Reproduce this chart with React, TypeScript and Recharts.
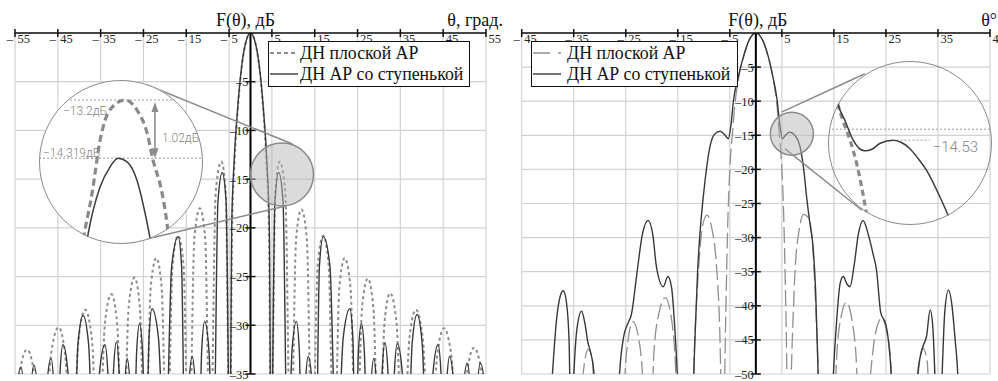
import React from 'react';
import { LineChart, Line, XAxis, YAxis, CartesianGrid, ReferenceLine, ReferenceDot } from 'recharts';

type Pt = [number, number];

const SERIF = "'Liberation Serif', 'Times New Roman', serif";
const LIGHT = "Roboto, 'DejaVu Sans', sans-serif";

// ---------- series names ----------
const flatName = 'ДН плоской АР';
const stepName = 'ДН АР со ступенькой';

// ---------- left panel: θ ∈ [−55°, 55°], F(θ) ∈ [−35, 0] dB ----------
const leftThetaTicks = [-55, -45, -35, -25, -15, -5, 5, 15, 25, 35, 45, 55];
const leftDbTicks = [0, -5, -10, -15, -20, -25, -30, -35];

const leftFlat: Pt[] = [
  [-56, -45],
  [-54.1, -35.5], [-52.2, -32.5], [-50.35, -35.5],
  [-48.5, -45],
  [-46.65, -33.2], [-44.8, -30.2], [-43.25, -33.2],
  [-41.7, -45],
  [-40.15, -31.4], [-38.6, -28.4], [-37.05, -31.4],
  [-35.5, -45],
  [-34, -29.8], [-32.5, -26.8], [-31.15, -29.8],
  [-29.8, -45],
  [-28.45, -28.1], [-27.1, -25.1], [-25.85, -28.1],
  [-24.6, -45],
  [-23.3, -26.1], [-22, -23.1], [-20.75, -26.1],
  [-19.5, -45],
  [-18.2, -23.8], [-16.9, -20.8], [-15.65, -23.8],
  [-14.4, -45],
  [-13.1, -21], [-11.8, -18], [-10.6, -21],
  [-9.4, -45],
  [-8.1, -16.2], [-6.8, -13.2], [-5.8, -16.2],
  [-4.8, -45],
  [-4.3, -20], [-3.7, -13], [-3, -8], [-2, -3.3], [-1, -0.8], [0, 0],
  [1, -0.8], [2, -3.3], [3, -8], [3.7, -13], [4.3, -20],
  [4.8, -45],
  [5.8, -16.2], [6.8, -13.2], [8.1, -16.2],
  [9.4, -45],
  [10.65, -21.1], [11.9, -18.1], [13.15, -21.1],
  [14.4, -45],
  [15.7, -23.8], [17, -20.8], [18.25, -23.8],
  [19.5, -45],
  [20.75, -26.1], [22, -23.1], [23.35, -26.1],
  [24.7, -45],
  [26.05, -28.2], [27.4, -25.2], [28.7, -28.2],
  [30, -45],
  [31.3, -29.7], [32.6, -26.7], [34.1, -29.7],
  [35.6, -45],
  [37.1, -31.4], [38.6, -28.4], [40.25, -31.4],
  [41.9, -45],
  [43.55, -33.3], [45.2, -30.3], [46.95, -33.3],
  [48.7, -45],
  [50.45, -35.3], [52.2, -32.3], [54.1, -35.3],
  [56, -45],
];

const leftStep: Pt[] = [
  [-56, -45],
  [-54.8, -37.3], [-53.6, -34.3], [-52.85, -37.3],
  [-52.1, -45],
  [-51.35, -37.1], [-50.6, -34.1], [-49.6, -37.1],
  [-48.6, -45],
  [-47.6, -36.4], [-46.6, -33.4], [-45.9, -36.4],
  [-45.2, -45],
  [-44.5, -35], [-43.8, -32], [-42.6, -35],
  [-41.45, -45],
  [-40.3, -32], [-39.1, -29], [-37.8, -32],
  [-36.55, -45],
  [-35.3, -35], [-34, -32], [-33.3, -35],
  [-32.65, -45],
  [-32, -34.7], [-31.3, -31.7], [-30.7, -34.7],
  [-30.05, -45],
  [-29.4, -36.4], [-28.8, -33.4], [-28.1, -36.4],
  [-27.35, -45],
  [-26.6, -32.8], [-25.9, -29.8], [-25.2, -32.8],
  [-24.45, -45],
  [-23.7, -31.3], [-23, -28.3], [-21.5, -31.3],
  [-19.95, -45],
  [-18.4, -23.9], [-16.9, -20.9], [-16.1, -23.9],
  [-15.25, -45],
  [-14.4, -36.2], [-13.6, -33.2], [-12.9, -36.2],
  [-12.15, -45],
  [-11.4, -32.6], [-10.7, -29.6], [-9.7, -32.6],
  [-8.65, -45],
  [-7.6, -17.3], [-6.6, -14.319], [-5.7, -17.3],
  [-4.8, -45],
  [-4.4, -20], [-3.8, -13], [-3.05, -8], [-2, -3.2], [-1, -0.8], [0, 0],
  [1, -0.8], [2, -3.2], [3.05, -8], [3.8, -13], [4.4, -20],
  [4.8, -45],
  [5.7, -17.3], [6.6, -14.319], [7.6, -17.3],
  [8.65, -45],
  [9.7, -32.6], [10.7, -29.6], [11.4, -32.6],
  [12.1, -45],
  [12.8, -36.2], [13.5, -33.2], [14.4, -36.2],
  [15.25, -45],
  [16.1, -23.9], [17, -20.9], [18.55, -23.9],
  [20.1, -45],
  [21.65, -31.3], [23.2, -28.3], [23.9, -31.3],
  [24.55, -45],
  [25.2, -32.8], [25.9, -29.8], [26.6, -32.8],
  [27.35, -45],
  [28.1, -36.4], [28.8, -33.4], [29.45, -36.4],
  [30.1, -45],
  [30.75, -34.8], [31.4, -31.8], [32.1, -34.8],
  [32.85, -45],
  [33.6, -34.9], [34.3, -31.9], [35.45, -34.9],
  [36.6, -45],
  [37.75, -31.9], [38.9, -28.9], [40.1, -31.9],
  [41.35, -45],
  [42.6, -35], [43.8, -32], [44.5, -35],
  [45.15, -45],
  [45.8, -36.2], [46.5, -33.2], [47.5, -36.2],
  [48.55, -45],
  [49.6, -36.9], [50.6, -33.9], [51.4, -36.9],
  [52.15, -45],
  [52.9, -36.9], [53.7, -33.9], [54.85, -36.9],
  [56, -45],
];

// magnified first side lobe (left lens)
const leftLensFlat: Pt[] = [
  [5.5, -16.3], [5.6, -15.9], [5.86, -14.99], [6.09, -13.97], [6.37, -13.39], [6.8, -13.2],
  [7.14, -13.39], [7.43, -13.83], [7.6, -14.35], [7.86, -14.99], [8.0, -15.57], [8.12, -16.3],
];
const leftLensStep: Pt[] = [
  [5.62, -16.3], [5.74, -15.8], [6.09, -14.87], [6.37, -14.49], [6.6, -14.319], [6.86, -14.39],
  [7.14, -14.74], [7.31, -15.18], [7.51, -15.83], [7.63, -16.3],
];
const leftLensLevels = { flat: -13.2, step: -14.319, diff: '1.02' };

// ---------- right panel: θ ∈ [−45°, 45°], F(θ) ∈ [−50, 0] dB ----------
const rightThetaTicks = [-45, -35, -25, -15, -5, 5, 15, 25, 35, 45];
const rightDbTicks = [0, -5, -10, -15, -20, -25, -30, -35, -40, -45, -50];

const rightFlat: Pt[] = [
  [-34, -60], [-33.2, -50], [-32.2, -46.4], [-31.4, -48], [-30.8, -60],
  [-25.6, -60], [-25, -48], [-23.6, -42.3], [-22.6, -44.5], [-21.8, -50], [-21.3, -60],
  [-20.2, -60], [-19.6, -47], [-18.6, -41], [-17.4, -38.8], [-16.3, -41.5], [-15.5, -48], [-14.9, -60],
  [-12.4, -60], [-11.8, -46], [-11, -34.5], [-10.3, -28.5], [-9.4, -26.7], [-8.5, -28.5], [-7.6, -33.8], [-7, -42],
  [-6.3, -62],
  [-5.8, -42], [-5.4, -28], [-4.9, -18.5], [-4.5, -14.8], [-4.1, -11], [-3.4, -7], [-2.4, -3.6], [-1.2, -0.9], [0, 0],
  [1.2, -0.9], [2.4, -3.6], [3.4, -7], [4.1, -11], [4.5, -14.8], [4.9, -18.5], [5.4, -28], [5.8, -42],
  [6.3, -62],
  [7, -45], [7.6, -34], [8.3, -29], [9.2, -26.6], [10.2, -27.2], [10.9, -31], [11.5, -40], [12, -50], [12.4, -60],
  [14.9, -60], [15.5, -48], [16.4, -41.5], [17.4, -39.5], [18.5, -42.3], [19.3, -48], [19.8, -60],
  [21, -60], [21.8, -52], [23, -44], [24.2, -41.8], [25.2, -44], [25.9, -48], [26.4, -60],
  [30.4, -60], [31.2, -50], [32.1, -46.2], [32.9, -48], [33.5, -60],
];

const rightStep: Pt[] = [
  [-40, -60], [-39.1, -50], [-38.3, -42], [-37.6, -38.6], [-37, -37.8], [-36.4, -39.5], [-35.9, -45], [-35.5, -60],
  [-35.1, -52], [-34.4, -43.5], [-33.5, -40.8], [-32.8, -42.8], [-32.3, -45.3], [-31.7, -47], [-31.1, -50], [-30.6, -60],
  [-26.8, -60], [-26.2, -50], [-25.4, -44.5], [-24.6, -42.6], [-23.9, -41.2], [-22.9, -35.5], [-21.8, -29.5],
  [-20.7, -27.5], [-19.8, -29.6], [-19.1, -34.3], [-17.8, -37.2], [-16.9, -35.7], [-16.2, -37.3], [-15.6, -43],
  [-15.1, -50], [-14.6, -60],
  [-12.4, -60], [-11.8, -47], [-11.2, -35], [-10.7, -29], [-10.1, -24], [-9.5, -20], [-8.8, -16.6], [-8, -14.9],
  [-6.9, -14.4], [-6, -14.9], [-5.3, -15.5], [-4.8, -13.6], [-4.3, -9.9], [-3.4, -6.5], [-2.4, -3.5], [-1.2, -0.9], [0, 0],
  [1.2, -0.9], [2.4, -3.5], [3.3, -6.5], [4.1, -9.9], [4.6, -13.4], [5.1, -15.5], [5.8, -14.9], [6.5, -14.53],
  [7.5, -15], [8.5, -16.7], [9.2, -20], [9.75, -24], [10.4, -28], [11, -31.4], [11.5, -38], [11.9, -48], [12.3, -60],
  [14.4, -60], [14.9, -50], [15.5, -42.5], [16.2, -36.7], [16.8, -35.7], [17.5, -36.8], [18.1, -37.2], [18.9, -34],
  [19.7, -29.5], [20.6, -27.5], [21.6, -29.5], [22.5, -32.3], [23.2, -34.8], [24, -41], [25, -42.8], [25.6, -46],
  [26, -50], [26.4, -60],
  [30.3, -60], [31.1, -50], [32.1, -46], [32.8, -44.5], [33.5, -40.6], [34, -43], [34.4, -50], [34.8, -60],
  [35.3, -60], [35.8, -50], [36.3, -41], [37, -37.7], [37.7, -40], [38.3, -45], [38.8, -50], [39.2, -60],
];

// magnified shoulder of the main lobe (right lens)
const rightLensStep: Pt[] = [
  [3.6, -10.3], [3.75, -11.35], [4.08, -12.71], [4.5, -14.53], [4.74, -15.17], [5.08, -15.5], [5.44, -15.35],
  [5.83, -14.83], [6.5, -14.53], [6.94, -14.76], [7.33, -15.28], [7.74, -16.17], [8.17, -17.26], [8.84, -19.68],
  [9.25, -21.35], [9.5, -22.5],
];
const rightLensFlat: Pt[] = [
  [3.6, -10.3], [3.73, -11.26], [3.98, -12.71], [4.34, -14.53], [4.67, -16.65], [4.92, -18.78], [5.13, -20.89],
  [5.25, -22.4],
];
const rightLensLevels = { shoulder: -14.53, guide: -13.53 };

const rows = (pts: Pt[]) => pts.map(([theta, db]) => ({ theta, db }));

// ---------- small drawing helpers ----------
const TopTick = (props: any) => {
  const { x, y, payload } = props;
  const v = Number(payload.value);
  return (
    <g>
      <line x1={x} x2={x} y1={y - 4} y2={y + 4} stroke="#111" strokeWidth={1.5} />
      {v < 0 && (
        <text x={x - 2} y={y + 10} textAnchor="end" style={{ fontFamily: SERIF }} fontSize={12.5} fill="#222">
          –
        </text>
      )}
      <text x={x + 2.5} y={y + 10} textAnchor="start" style={{ fontFamily: SERIF }} fontSize={12.5} fill="#222">
        {Math.abs(v)}
      </text>
    </g>
  );
};

const yTickShape = (v: number) => (p: any) => (
  <g>
    <line x1={p.cx - 5} x2={p.cx + 5} y1={p.cy} y2={p.cy} stroke="#111" strokeWidth={1.5} />
    <text x={p.cx - 2} y={p.cy + 4.5} textAnchor="end" style={{ fontFamily: SERIF }} fontSize={12.5} fill="#222">
      {`–${-v}`}
    </text>
  </g>
);

const textShape = (label: string, dx: number, dy: number, anchor: string, size: number, family: string, fill: string, weight = 400) =>
  (p: any) => (
    <text x={p.cx + dx} y={p.cy + dy} textAnchor={anchor} style={{ fontFamily: family, fontWeight: weight }} fontSize={size} fill={fill}>
      {label}
    </text>
  );

const arrowShape = (p: any) => {
  const { x1, y1, y2 } = p;
  const top = Math.min(y1, y2) + 2;
  const bot = Math.max(y1, y2);
  return (
    <g>
      <line x1={x1} x2={x1} y1={top + 6} y2={bot - 6} stroke="#8a8a8a" strokeWidth={1.5} />
      <polygon points={`${x1},${top} ${x1 - 3.5},${top + 10} ${x1 + 3.5},${top + 10}`} fill="#8a8a8a" />
      <polygon points={`${x1},${bot} ${x1 - 3.5},${bot - 10} ${x1 + 3.5},${bot - 10}`} fill="#8a8a8a" />
    </g>
  );
};

type LegendItem = { name: string; stroke: string; width: number; dash?: string };

const LegendBox = ({ left, top, width, textX, items }: { left: number; top: number; width: number; textX: number; items: LegendItem[] }) => (
  <div
    style={{
      position: 'absolute', left, top, width, height: 46, background: '#fff',
      border: '1.6px solid #111', boxSizing: 'border-box',
    }}
  >
    <svg width={width} height={46} style={{ position: 'absolute', left: -1.6, top: -1.6 }}>
      {items.map((it, i) => (
        <g key={it.name}>
          <line x1={3} x2={31} y1={13 + i * 21} y2={13 + i * 21} stroke={it.stroke} strokeWidth={it.width} strokeDasharray={it.dash} />
          <text x={textX} y={19 + i * 21} style={{ fontFamily: SERIF }} fontSize={17.8} fill="#111">
            {it.name}
          </text>
        </g>
      ))}
    </svg>
  </div>
);

const STEP_STROKE = '#383838';
const FLAT_STROKE_L = '#8c8c8c';
const FLAT_STROKE_R = '#8f8f8f';
const GRID = '#d2d2d2';
const LENS = '#8a8a8a';

export default function App() {
  return (
    <div style={{ position: 'absolute', left: 0, top: 0, width: 998, height: 381, background: '#fff', overflow: 'hidden' }}>
      {/* left panel */}
      <div style={{ position: 'absolute', left: 0, top: 0 }}>
        <LineChart width={510} height={381} margin={{ top: 21, right: 24, bottom: 7, left: 15 }}>
          <CartesianGrid stroke={GRID} strokeWidth={1.2} verticalValues={leftThetaTicks} horizontalValues={leftDbTicks} />
          <XAxis
            type="number" dataKey="theta" orientation="top" height={12} domain={[-55, 55]} ticks={leftThetaTicks}
            interval={0} allowDataOverflow tickSize={0} tickMargin={0} tick={<TopTick />}
            axisLine={{ stroke: '#111', strokeWidth: 1.5 }} tickLine={false}
          />
          <YAxis type="number" hide domain={[-35, 0]} ticks={leftDbTicks} allowDataOverflow />
          <Line data={rows(leftFlat)} dataKey="db" name={flatName} type="monotone" stroke={FLAT_STROKE_L} strokeWidth={2}
            strokeDasharray="3 3" dot={false} isAnimationActive={false} />
          <Line data={rows(leftStep)} dataKey="db" name={stepName} type="monotone" stroke={STEP_STROKE} strokeWidth={1.4}
            dot={false} isAnimationActive={false} />
          <ReferenceLine x={0} stroke="#000" strokeWidth={2} />
          {leftDbTicks.filter((v) => v !== 0).map((v) => (
            <ReferenceDot key={v} x={0} y={v} r={0} shape={yTickShape(v)} />
          ))}
          <ReferenceDot x={0} y={0} r={0} shape={textShape('F(θ), дБ', -5, -7, 'middle', 18, SERIF, '#111')} />
          <ReferenceDot x={55} y={0} r={0} shape={textShape('θ, град.', 17, -7, 'end', 18, SERIF, '#111')} />
          {/* lens on the first side lobe */}
          <ReferenceDot x={7.36} y={-14.53} r={31.5} fill="#b8b8b8" fillOpacity={0.5} stroke={LENS} strokeWidth={1.5} />
          <ReferenceLine segment={[{ x: -24.07, y: -5.34 }, { x: 9.81, y: -11.4 }]} stroke={LENS} strokeWidth={1.5} />
          <ReferenceLine segment={[{ x: -28.04, y: -21.56 }, { x: 8.18, y: -17.76 }]} stroke={LENS} strokeWidth={1.5} />
        </LineChart>
      </div>

      {/* right panel */}
      <div style={{ position: 'absolute', left: 505, top: 0 }}>
        <LineChart width={493} height={381} margin={{ top: 21, right: 8, bottom: 7, left: 16.7 }}>
          <CartesianGrid stroke={GRID} strokeWidth={1.2} verticalValues={rightThetaTicks} horizontalValues={rightDbTicks} />
          <XAxis
            type="number" dataKey="theta" orientation="top" height={12} domain={[-45, 45]} ticks={rightThetaTicks}
            interval={0} allowDataOverflow tickSize={0} tickMargin={0} tick={<TopTick />}
            axisLine={{ stroke: '#111', strokeWidth: 1.5 }} tickLine={false}
          />
          <YAxis type="number" hide domain={[-50, 0]} ticks={rightDbTicks} allowDataOverflow />
          <Line data={rows(rightFlat)} dataKey="db" name={flatName} type="monotone" stroke={FLAT_STROKE_R} strokeWidth={1.3}
            strokeDasharray="16 5" dot={false} isAnimationActive={false} />
          <Line data={rows(rightStep)} dataKey="db" name={stepName} type="monotone" stroke={STEP_STROKE} strokeWidth={1.4}
            dot={false} isAnimationActive={false} />
          <ReferenceLine x={0} stroke="#000" strokeWidth={2} />
          {rightDbTicks.filter((v) => v !== 0).map((v) => (
            <ReferenceDot key={v} x={0} y={v} r={0} shape={yTickShape(v)} />
          ))}
          <ReferenceDot x={0} y={0} r={0} shape={textShape('F(θ), дБ', 2, -7, 'middle', 18, SERIF, '#111')} />
          <ReferenceDot x={45} y={0} r={0} shape={textShape('θ°', 7, -7, 'end', 18, SERIF, '#111')} />
          {/* lens on the shoulder of the main lobe */}
          <ReferenceDot x={6.92} y={-14.76} r={21.5} fill="#b8b8b8" fillOpacity={0.5} stroke={LENS} strokeWidth={1.5} />
          <ReferenceLine segment={[{ x: 4.94, y: -11.6 }, { x: 20.96, y: -5.97 }]} stroke={LENS} strokeWidth={1.5} />
          <ReferenceLine segment={[{ x: 5.58, y: -16.95 }, { x: 20.38, y: -25.99 }]} stroke={LENS} strokeWidth={1.5} />
        </LineChart>
      </div>

      <LegendBox
        left={268} top={41} width={202} textX={33}
        items={[
          { name: flatName, stroke: FLAT_STROKE_L, width: 2, dash: '4 3' },
          { name: stepName, stroke: STEP_STROKE, width: 1.4 },
        ]}
      />
      <LegendBox
        left={531} top={41} width={207} textX={37}
        items={[
          { name: flatName, stroke: FLAT_STROKE_R, width: 1.3, dash: '17 8' },
          { name: stepName, stroke: STEP_STROKE, width: 1.4 },
        ]}
      />

      {/* left magnified view */}
      <div style={{ position: 'absolute', left: 39, top: 80, width: 164, height: 164, borderRadius: '50%', overflow: 'hidden', background: '#fff' }}>
        <LineChart width={164} height={164} margin={{ top: 0, right: 0, bottom: 0, left: 0 }}>
          <XAxis hide type="number" dataKey="theta" domain={[4.343, 9.029]} allowDataOverflow />
          <YAxis hide type="number" domain={[-15.969, -12.815]} allowDataOverflow />
          <ReferenceLine segment={[{ x: 5.229, y: leftLensLevels.flat }, { x: 8.229, y: leftLensLevels.flat }]}
            stroke="#9a9a9a" strokeWidth={1} strokeDasharray="2 2" />
          <ReferenceLine y={leftLensLevels.step} stroke="#9a9a9a" strokeWidth={1} strokeDasharray="2 2" />
          <Line data={rows(leftLensFlat)} dataKey="db" type="monotone" stroke="#8a8a8a" strokeWidth={3.2}
            strokeDasharray="7 4" dot={false} isAnimationActive={false} />
          <Line data={rows(leftLensStep)} dataKey="db" type="monotone" stroke="#3c3c3c" strokeWidth={1.5}
            dot={false} isAnimationActive={false} />
          <ReferenceLine segment={[{ x: 7.657, y: leftLensLevels.flat }, { x: 7.657, y: leftLensLevels.step }]} shape={arrowShape} />
          <ReferenceDot x={5.229} y={leftLensLevels.flat} r={0}
            shape={textShape(`${leftLensLevels.flat}дБ`.replace('-', '−'), -7, 15, 'start', 12, LIGHT, '#858585', 300)} />
          <ReferenceDot x={4.457} y={leftLensLevels.step} r={0}
            shape={textShape(`${leftLensLevels.step}дБ`.replace('-', '−'), 0, -1, 'start', 12, LIGHT, '#858585', 300)} />
          <ReferenceDot x={7.657} y={-13.76} r={0}
            shape={textShape(`${leftLensLevels.diff}дБ`, 7, 13, 'start', 12, LIGHT, '#858585', 300)} />
        </LineChart>
      </div>
      <div style={{ position: 'absolute', left: 39, top: 80, width: 164, height: 164, borderRadius: '50%', border: `1.5px solid ${LENS}`, boxSizing: 'border-box' }} />

      {/* right magnified view */}
      <div style={{ position: 'absolute', left: 828, top: 60.6, width: 164.4, height: 164.4, borderRadius: '50%', overflow: 'hidden' }}>
        <LineChart width={164} height={164} margin={{ top: 0, right: 0, bottom: 0, left: 0 }}>
          <XAxis hide type="number" dataKey="theta" domain={[3.235, 11.455]} allowDataOverflow />
          <YAxis hide type="number" domain={[-22.257, -7.312]} allowDataOverflow />
          <ReferenceLine y={rightLensLevels.guide} stroke="#9a9a9a" strokeWidth={1} strokeDasharray="2 2" />
          <ReferenceLine segment={[{ x: 6.67, y: rightLensLevels.shoulder }, { x: 8.33, y: rightLensLevels.shoulder }]}
            stroke="#9a9a9a" strokeWidth={1} strokeDasharray="2 2" />
          <Line data={rows(rightLensFlat)} dataKey="db" type="monotone" stroke="#8a8a8a" strokeWidth={3.2}
            strokeDasharray="6 4" dot={false} isAnimationActive={false} />
          <Line data={rows(rightLensStep)} dataKey="db" type="monotone" stroke="#3c3c3c" strokeWidth={1.5}
            dot={false} isAnimationActive={false} />
          <ReferenceDot x={8.33} y={rightLensLevels.shoulder} r={0}
            shape={textShape(`${rightLensLevels.shoulder}`.replace('-', '−'), 3, 11.6, 'start', 15, LIGHT, '#858585', 300)} />
        </LineChart>
      </div>
      <div style={{ position: 'absolute', left: 828, top: 60.6, width: 164.4, height: 164.4, borderRadius: '50%', border: `1.5px solid ${LENS}`, boxSizing: 'border-box' }} />
    </div>
  );
}
